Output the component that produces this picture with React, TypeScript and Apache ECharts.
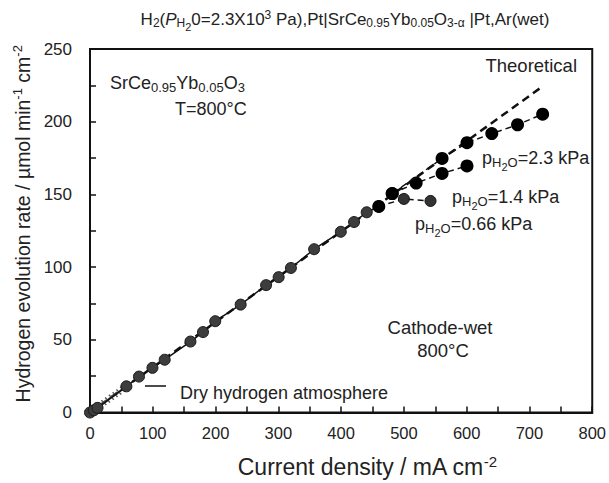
import React, { useEffect, useRef } from 'react';
import * as echarts from 'echarts';

// ---- data ----
const xRange = [0, 800];
const yRange = [0, 250];
const theoretical = [[0, 0], [720, 224]];
const dryHydrogen = [
  [4, 1.3], [10, 3.1], [16, 5], [22, 6.8], [28, 8.6], [34, 10.5], [40, 12.3], [46, 14.1], [52, 16], [58, 17.8],
];
const wetCommon = [
  [0, 0], [6, 1.5], [12, 3.2], [58, 18], [78, 24.7], [99.5, 30.7], [119, 36.3], [160, 48.8], [180, 55.3],
  [199.5, 62.8], [240, 74.2], [280.5, 87.6], [300.5, 93.1], [320, 99.4], [357, 112.3], [399.5, 124.3],
  [420.6, 131], [440.8, 137.7], [460, 141.7],
];
const p23 = [[460, 141.7], [481.4, 150.6], [560.8, 174.7], [600.5, 185.6], [640, 191.8], [681, 197.9], [721, 205.2]];
const p14 = [[481.4, 150.6], [519.5, 157.8], [560.8, 164.4], [600.5, 169.6]];
const p066 = [[460, 141.7], [500, 146.9], [542.4, 145.5]];

const FONT = 'Liberation Sans, Arial, Helvetica, sans-serif';

const subRich = (base: number) => ({
  sub: { fontSize: Math.round(base * 0.7), fontFamily: FONT, fill: '#222', padding: [Math.round(base * 0.45), 0, 0, 0] },
  subsub: { fontSize: Math.round(base * 0.62), fontFamily: FONT, fill: '#222', padding: [Math.round(base * 0.95), 0, 0, 0] },
  sup: { fontSize: Math.round(base * 0.7), fontFamily: FONT, fill: '#222', padding: [0, 0, Math.round(base * 0.5), 0] },
  it: { fontSize: base, fontFamily: FONT, fontStyle: 'italic', fill: '#222' },
});

const txt = (x: number, y: number, text: string, size: number, align: string = 'left') => ({
  type: 'text',
  x,
  y,
  silent: true,
  style: {
    text,
    fontSize: size,
    fontFamily: FONT,
    fill: '#222',
    align,
    verticalAlign: 'middle',
    rich: subRich(size),
  },
});

export default function App() {
  const ref = useRef<HTMLDivElement>(null);
  useEffect(() => {
    if (!ref.current) return;
    const chart = echarts.init(ref.current, undefined, { renderer: 'svg' });
    const option: any = {
      animation: false,
      backgroundColor: '#fff',
      grid: { left: 90, right: 16, top: 49, bottom: 61, show: true, borderColor: '#111', borderWidth: 2, backgroundColor: 'transparent' },
      xAxis: {
        type: 'value',
        min: xRange[0],
        max: xRange[1],
        interval: 100,
        axisLine: { show: true, lineStyle: { color: '#111', width: 2 } },
        axisTick: { show: true, inside: true, length: 6, lineStyle: { color: '#111', width: 1.5 } },
        minorTick: { show: true, splitNumber: 2, length: 6, lineStyle: { color: '#111', width: 1.5 } },
        splitLine: { show: false },
        axisLabel: { fontSize: 16.5, color: '#222', fontFamily: FONT, margin: 12 },
        name: 'Current density / mA cm{sup|-2}',
        nameLocation: 'middle',
        nameGap: 41,
        nameTextStyle: {
          fontSize: 23, color: '#222', fontFamily: FONT, padding: [0, 0, 0, 52],
          rich: { sup: { fontSize: 15, color: '#222', fontFamily: FONT, padding: [0, 0, 11, 0] } },
        },
      },
      yAxis: {
        type: 'value',
        min: yRange[0],
        max: yRange[1],
        interval: 50,
        axisLine: { show: true, lineStyle: { color: '#111', width: 2 } },
        axisTick: { show: true, inside: true, length: 6, lineStyle: { color: '#111', width: 1.5 } },
        minorTick: { show: true, splitNumber: 2, length: 6, lineStyle: { color: '#111', width: 1.5 } },
        splitLine: { show: false },
        axisLabel: { fontSize: 17, color: '#222', fontFamily: FONT, margin: 18 },
        name: 'Hydrogen evolution rate / µmol min{sup|-1} cm{sup|-2}',
        nameLocation: 'middle',
        nameRotate: 90,
        nameGap: 55,
        nameTextStyle: {
          fontSize: 19.5, color: '#222', fontFamily: FONT, padding: [0, 0, 0, 14],
          rich: { sup: { fontSize: 13, color: '#222', fontFamily: FONT, padding: [0, 0, 10, 0] } },
        },
      },
      series: [
        {
          name: 'Theoretical',
          type: 'line',
          data: theoretical,
          symbol: 'none',
          lineStyle: { color: '#111', width: 2.5, type: [8, 5] },
          z: 1,
        },
        {
          name: 'Dry hydrogen atmosphere',
          type: 'line',
          data: dryHydrogen,
          symbol: 'path://M4,0H6V4H10V6H6V10H4V6H0V4H4Z',
          symbolSize: 7,
          symbolRotate: 45,
          itemStyle: { color: '#555' },
          lineStyle: { color: '#555', width: 1.2 },
          z: 3,
        },
        {
          name: 'wet',
          type: 'line',
          data: wetCommon,
          symbol: 'circle',
          symbolSize: 11,
          itemStyle: { color: '#3d3d3d', borderColor: '#1a1a1a', borderWidth: 1 },
          lineStyle: { color: '#111', width: 1.5 },
          z: 4,
        },
        {
          name: 'pH2O=0.66 kPa',
          type: 'line',
          data: p066,
          symbol: 'circle',
          symbolSize: 11,
          itemStyle: { color: '#333', borderColor: '#111', borderWidth: 1 },
          lineStyle: { color: '#111', width: 1.5, type: [6, 4] },
          z: 5,
        },
        {
          name: 'pH2O=1.4 kPa',
          type: 'line',
          data: p14,
          symbol: 'circle',
          symbolSize: 13,
          itemStyle: { color: '#000' },
          lineStyle: { color: '#111', width: 1.5, type: [6, 4] },
          z: 6,
        },
        {
          name: 'pH2O=2.3 kPa',
          type: 'line',
          data: p23,
          symbol: 'circle',
          symbolSize: 13,
          itemStyle: { color: '#000' },
          lineStyle: { color: '#111', width: 1.5, type: [6, 4] },
          z: 7,
        },
      ],
      graphic: [
        txt(345, 19, 'H{sub|2}({it|P}{sub|H}{subsub|2}0=2.3X10{sup|3} Pa),Pt|SrCe{sub|0.95}Yb{sub|0.05}O{sub|3-α} |Pt,Ar(wet)', 17, 'center'),
        txt(110, 83, 'SrCe{sub|0.95}Yb{sub|0.05}O{sub|3}', 18),
        txt(175, 109, 'T=800°C', 18),
        txt(577, 65, 'Theoretical', 18.5, 'right'),
        txt(482, 158, 'p{sub|H}{subsub|2}{sub|O}=2.3 kPa', 18),
        txt(452, 197, 'p{sub|H}{subsub|2}{sub|O}=1.4 kPa', 18),
        txt(415, 224, 'p{sub|H}{subsub|2}{sub|O}=0.66 kPa', 18),
        txt(440, 327, 'Cathode-wet', 18.5, 'center'),
        txt(443, 350, '800°C', 18.5, 'center'),
        txt(180, 393, 'Dry hydrogen atmosphere', 18),
        {
          type: 'line',
          silent: true,
          shape: { x1: 145, y1: 386, x2: 166, y2: 386 },
          style: { stroke: '#111', lineWidth: 1.5 },
        },
      ],
    };
    chart.setOption(option);
    return () => chart.dispose();
  }, []);
  return <div ref={ref} style={{ position: 'fixed', left: 0, top: 0, width: 609, height: 483, background: '#fff' }} />;
}
